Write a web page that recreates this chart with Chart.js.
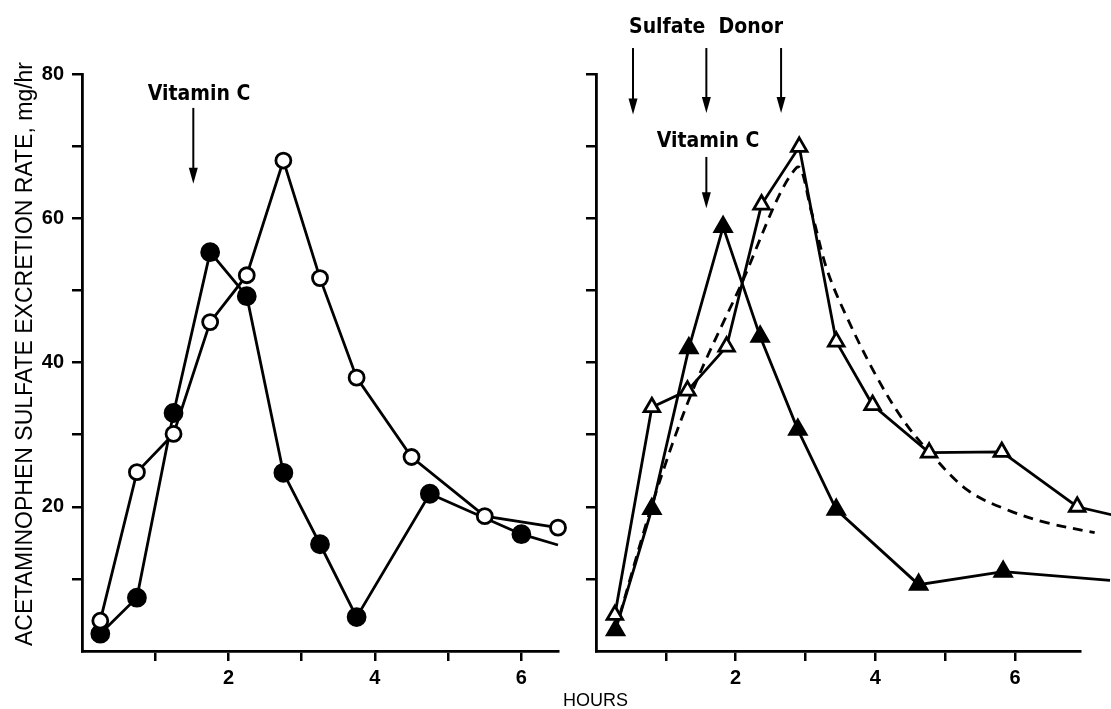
<!DOCTYPE html>
<html lang="en">
<head>
<meta charset="UTF-8">
<title>Acetaminophen sulfate excretion rate</title>
<script src="https://cdn.jsdelivr.net/npm/chart.js"></script>
<style>
    body { margin: 0; background: #fff; width: 1111px; height: 709px; overflow: hidden; position: relative; }
    canvas { position: absolute; top: 0; }
    #leftChart { left: 0; }
    #rightChart { left: 560px; }
    #hours { position: absolute; left: 563px; top: 690px; font: 18px "Liberation Sans", Arial, sans-serif; color: #000; }
</style>
</head>
<body>
<canvas id="leftChart" width="580" height="709"></canvas>
<canvas id="rightChart" width="551" height="709"></canvas>
<div id="hours">HOURS</div>

<script>
// left panel: vitamin C only (hours, mg/hr)
const leftOpenHours = [0.25, 0.75, 1.25, 1.75, 2.25, 2.75, 3.25, 3.75, 4.5, 5.5, 6.5];
const leftOpenRate  = [4.2, 24.8, 30.1, 45.6, 52.1, 68.0, 51.7, 37.9, 26.9, 18.7, 17.1];
const leftFilledHours = [0.25, 0.75, 1.25, 1.75, 2.25, 2.75, 3.25, 3.75, 4.75, 6.0, 6.5];
const leftFilledRate  = [2.4, 7.4, 33.0, 55.3, 49.2, 24.7, 14.8, 4.7, 21.8, 16.2, 14.7];

// right panel: sulfate donor + vitamin C
const rightOpenHours = [0.27, 0.80, 1.31, 1.87, 2.37, 2.91, 3.44, 3.96, 4.77, 5.81, 6.89, 7.38];
const rightOpenRate  = [5.0, 33.8, 36.1, 42.2, 61.9, 69.9, 42.9, 34.1, 27.5, 27.6, 20.0, 18.9];
const rightFilledHours = [0.28, 0.80, 1.33, 1.82, 2.35, 2.89, 3.44, 4.62, 5.83, 7.36];
const rightFilledRate  = [2.9, 19.7, 42.0, 58.8, 43.6, 30.7, 19.6, 9.2, 11.0, 9.8];
const dashedHours = [0.34, 0.84, 1.37, 2.03, 2.87, 3.09, 3.31, 3.61, 4.02, 4.4, 4.78, 5.32, 5.88, 6.45, 7.14];
const dashedRate  = [5.0, 21.4, 35.8, 49.8, 67.0, 60.7, 52.8, 45.9, 38.0, 32.0, 27.5, 22.3, 19.6, 17.8, 16.4];

const yTicks = [10, 20, 30, 40, 50, 60, 70, 80];
const yLabels = [20, 40, 60, 80];
const xLabels = [2, 4, 6];
const yTitle = 'ACETAMINOPHEN SULFATE EXCRETION RATE, mg/hr';

const tickFont = { family: '"Liberation Sans", Arial, sans-serif', size: 20, weight: 'bold' };
const noteFont = '"DejaVu Sans Condensed", "Liberation Sans Narrow", "Liberation Sans", sans-serif';

function pts(xs, ys) {
    return xs.map((x, i) => ({ x: x, y: ys[i] }));
}

// arrows and captions, drawn in data coordinates
const notesPlugin = {
    id: 'notes',
    afterDraw(chart, args, opts) {
        const ctx = chart.ctx;
        const xs = chart.scales.x, ys = chart.scales.y;
        ctx.save();
        ctx.fillStyle = '#000';
        ctx.strokeStyle = '#000';
        (opts.arrows || []).forEach(a => {
            const x = xs.getPixelForValue(a.x);
            const y0 = ys.getPixelForValue(a.from);
            const y1 = ys.getPixelForValue(a.to);
            ctx.lineWidth = 2;
            ctx.beginPath();
            ctx.moveTo(x, y0);
            ctx.lineTo(x, y1 - 12);
            ctx.stroke();
            ctx.beginPath();
            ctx.moveTo(x - 4.5, y1 - 16);
            ctx.lineTo(x + 4.5, y1 - 16);
            ctx.lineTo(x, y1);
            ctx.closePath();
            ctx.fill();
        });
        (opts.texts || []).forEach(t => {
            ctx.font = 'bold ' + t.size + 'px ' + noteFont;
            ctx.textAlign = 'center';
            ctx.textBaseline = 'alphabetic';
            ctx.fillText(t.text, t.px, t.py);
        });
        if (opts.yTitle) {
            let size = 20;
            ctx.font = size + 'px "Liberation Sans", Arial, sans-serif';
            const w = ctx.measureText(opts.yTitle).width;
            size = size * 583 / w;
            ctx.font = size.toFixed(1) + 'px "Liberation Sans", Arial, sans-serif';
            ctx.translate(32, 354);
            ctx.rotate(-Math.PI / 2);
            ctx.textAlign = 'center';
            ctx.fillText(opts.yTitle, 0, 0);
        }
        ctx.restore();
    }
};

function axes(xMax, yAxisWidth, showYLabels) {
    const gridOpts = { drawOnChartArea: false, drawTicks: true, tickLength: 10, color: '#000', lineWidth: 2.5 };
    return {
        x: {
            type: 'linear', min: 0, max: xMax,
            border: { color: '#000', width: 2.8 },
            grid: gridOpts,
            ticks: {
                stepSize: 1, padding: 5, color: '#000', font: tickFont, maxRotation: 0,
                includeBounds: false, autoSkip: false,
                callback: v => xLabels.includes(v) ? String(v) : ''
            },
            afterBuildTicks: s => { s.ticks = s.ticks.filter(t => Number.isInteger(t.value) && t.value >= 1 && t.value <= 6); },
            afterFit: s => { s.height = 58; }
        },
        y: {
            type: 'linear', min: 0, max: 80,
            border: { color: '#000', width: 2.8 },
            grid: gridOpts,
            ticks: {
                stepSize: 10, padding: 8, color: '#000', font: tickFont, autoSkip: false,
                callback: v => (showYLabels && yLabels.includes(v)) ? String(v) : ''
            },
            afterBuildTicks: s => { s.ticks = s.ticks.filter(t => yTicks.includes(t.value)); },
            afterFit: s => { s.width = yAxisWidth; }
        }
    };
}

function lineSet(data, style, extra) {
    return Object.assign({
        data: data,
        borderColor: '#000',
        borderWidth: 2.8,
        pointBorderColor: '#000',
        pointBorderWidth: 2.8,
        tension: 0,
        clip: false,
        showLine: true
    }, style, extra || {});
}

const openCircle = { pointStyle: 'circle', pointRadius: 7.5, pointBackgroundColor: '#fff' };
const filledCircle = { pointStyle: 'circle', pointRadius: 8.5, pointBackgroundColor: '#000' };
const openTri = { pointStyle: 'triangle', pointRadius: 9, pointBackgroundColor: '#fff', pointBorderWidth: 2.8 };
const filledTri = { pointStyle: 'triangle', pointRadius: 9.5, pointBackgroundColor: '#000' };

new Chart(document.getElementById('leftChart'), {
    type: 'scatter',
    data: {
        datasets: [
            lineSet(pts(leftOpenHours, leftOpenRate), openCircle),
            lineSet(pts(leftFilledHours, leftFilledRate), filledCircle,
                { pointRadius: leftFilledHours.map((h, i) => i === leftFilledHours.length - 1 ? 0 : 8.5) })
        ]
    },
    options: {
        responsive: false,
        animation: false,
        layout: { padding: { left: 0, right: 22, top: 74, bottom: 0 } },
        scales: axes(6.5, 82, true),
        plugins: {
            legend: { display: false },
            tooltip: { enabled: false },
            notes: {
                yTitle: yTitle,
                arrows: [{ x: 1.52, from: 75.3, to: 64.8 }],
                texts: [{ text: 'Vitamin C', px: 199, py: 100, size: 21 }]
            }
        }
    },
    plugins: [notesPlugin]
});

new Chart(document.getElementById('rightChart'), {
    type: 'scatter',
    data: {
        datasets: [
            lineSet(pts(rightOpenHours, rightOpenRate), openTri,
                { pointRadius: rightOpenHours.map((h, i) => i === rightOpenHours.length - 1 ? 0 : 9) }),
            lineSet(pts(rightFilledHours, rightFilledRate), filledTri),
            lineSet(pts(dashedHours, dashedRate), { pointRadius: 0, borderDash: [10, 7], tension: 0.35 })
        ]
    },
    options: {
        responsive: false,
        animation: false,
        layout: { padding: { left: 0, right: 31, top: 74, bottom: 0 } },
        scales: axes(6.93, 36, false),
        plugins: {
            legend: { display: false },
            tooltip: { enabled: false },
            notes: {
                arrows: [
                    { x: 0.53, from: 83.6, to: 74.4 },
                    { x: 1.58, from: 83.6, to: 74.6 },
                    { x: 2.65, from: 83.6, to: 74.6 },
                    { x: 1.58, from: 68.5, to: 61.4 }
                ],
                texts: [
                    { text: 'Sulfate  Donor', px: 146, py: 33, size: 21 },
                    { text: 'Vitamin C', px: 148, py: 147, size: 21 }
                ]
            }
        }
    },
    plugins: [notesPlugin]
});
</script>
</body>
</html>
